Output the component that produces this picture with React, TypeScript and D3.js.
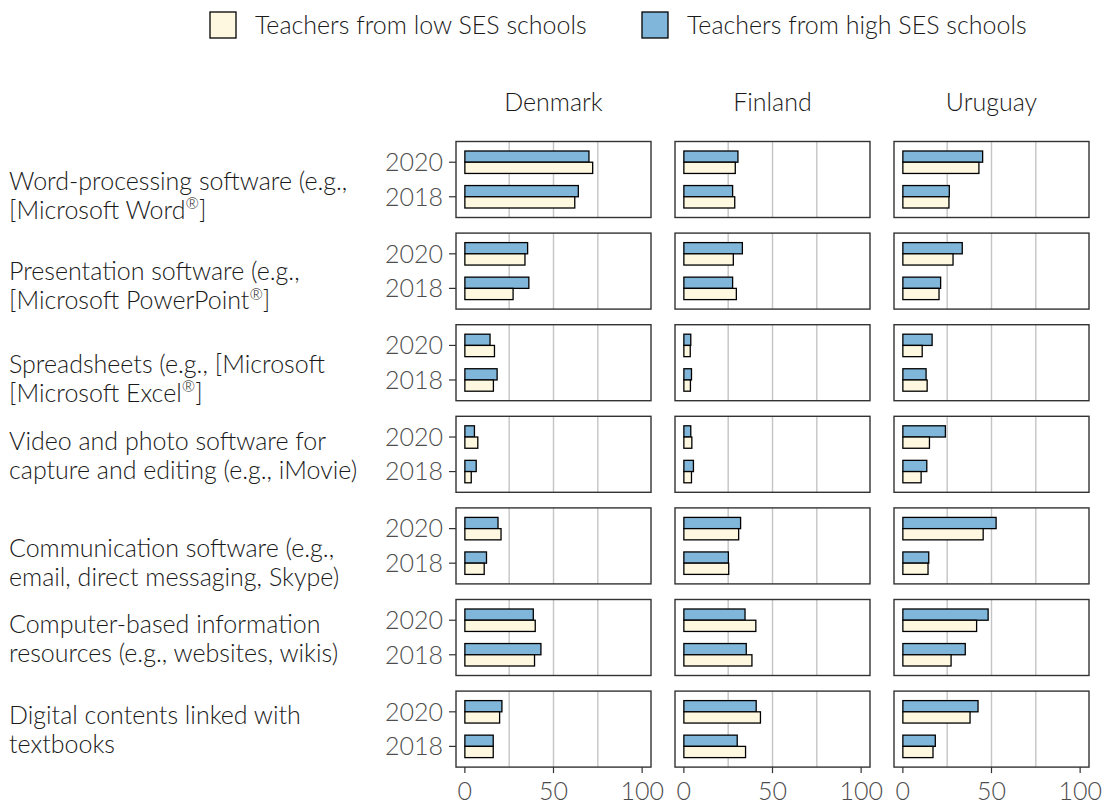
import * as d3 from "d3";

// --- data (percent of teachers) ---
const countries = ["Denmark", "Finland", "Uruguay"];
const years = ["2020", "2018"];
const groups = ["Teachers from low SES schools", "Teachers from high SES schools"];
const tools = [
  ["Word-processing software (e.g.,", "[Microsoft Word®]"],
  ["Presentation software (e.g.,", "[Microsoft PowerPoint®]"],
  ["Spreadsheets (e.g., [Microsoft", "[Microsoft Excel®]"],
  ["Video and photo software for", "capture and editing (e.g., iMovie)"],
  ["Communication software (e.g.,", "email, direct messaging, Skype)"],
  ["Computer-based information", "resources (e.g., websites, wikis)"],
  ["Digital contents linked with", "textbooks"],
];
const xTicks = [0, 50, 100];
const xGrid = [25, 50, 75];

// high SES values: [tool][country][year(2020,2018)]
const highSES = [
  [[70, 64], [30.5, 27.5], [45, 26.2]],
  [[35.4, 36.1], [33, 27.5], [33.5, 21.3]],
  [[14.2, 18.2], [3.9, 4.3], [16.5, 13.1]],
  [[5.4, 6.4], [3.9, 5.4], [24, 13.5]],
  [[18.7, 12.2], [32, 25.1], [52.6, 14.6]],
  [[38.6, 42.9], [34.5, 35.2], [48.1, 35.2]],
  [[20.9, 16], [40.8, 30.1], [42.4, 18.3]],
];
const lowSES = [
  [[72.1, 62], [29, 28.7], [42.9, 26]],
  [[33.9, 27.2], [27.9, 29.6], [28.3, 20.4]],
  [[16.7, 16.1], [3.6, 3.7], [10.9, 13.7]],
  [[7.3, 3.6], [4.5, 4.3], [15, 10.3]],
  [[20.4, 10.9], [30.9, 25.3], [45.3, 14.2]],
  [[39.7, 39.3], [40.6, 38.4], [41.6, 27.2]],
  [[19.6, 16], [43.2, 34.8], [37.9, 17]],
];

const W = 1107;
const H = 800;
const FONT = "Lato, 'Open Sans', sans-serif";
const LOW = "#FFF8E1";
const HIGH = "#80B6D9";
const colLeft = [456, 675, 894];
const panelW = 195;
const rowTop0 = 141.5;
const rowStep = 91.6;
const panelH = 76;
// labels that ggplot pushed down a bit
const labelShift = [16, 15, 16, 1, 17, 1, 1];

export default function App() {
  const xs = colLeft.map((l) => d3.scaleLinear().domain([-5, 105]).range([l, l + panelW]));

  return (
    <svg
      width={W}
      height={H}
      style={{ position: "absolute", left: 0, top: 0, fontFamily: FONT, fontWeight: 300 }}
    >
      <rect width={W} height={H} fill="#fff" />

      {/* legend */}
      {[{ x: 210, c: LOW, t: groups[0] }, { x: 642, c: HIGH, t: groups[1] }].map((g) => (
        <g key={g.t}>
          <rect x={g.x} y={12} width={26} height={26} fill={g.c} stroke="#000" strokeWidth={1.3} />
          <text x={g.x + 45} y={25} dy="0.35em" fontSize={25} fill="#1a1a1a">
            {g.t}
          </text>
        </g>
      ))}

      {/* facet titles */}
      {countries.map((c, ci) => (
        <text key={c} x={colLeft[ci] + panelW / 2} y={102} dy="0.35em" textAnchor="middle" fontSize={25} fill="#1a1a1a">
          {c}
        </text>
      ))}

      {tools.map((lines, ti) => {
        const top = rowTop0 + ti * rowStep;
        const y = d3.scalePoint().domain(years).range([top, top + panelH]).padding(0.6);
        const bw = y.step() * 0.325;
        const cy = top + panelH / 2 + labelShift[ti];
        return (
          <g key={ti}>
            {/* row label */}
            <text x={9} y={cy - 14.5} dy="0.35em" fontSize={25} fill="#1a1a1a">
              {lines[0]}
            </text>
            <text x={9} y={cy + 14.5} dy="0.35em" fontSize={25} fill="#1a1a1a">
              {lines[1].includes("®") ? (
                <>
                  {lines[1].split("®")[0]}
                  <tspan fontSize={16} dy="-0.6em">®</tspan>
                  <tspan dy="0.38em">{lines[1].split("®")[1]}</tspan>
                </>
              ) : (
                lines[1]
              )}
            </text>

            {/* year axis */}
            {years.map((yr) => (
              <g key={yr}>
                <line x1={449} x2={456} y1={y(yr)} y2={y(yr)} stroke="#333" strokeWidth={1.2} />
                <text x={443} y={y(yr)} dy="0.35em" textAnchor="end" fontSize={25} fill="#4d4d4d">
                  {yr}
                </text>
              </g>
            ))}

            {countries.map((c, ci) => {
              const x = xs[ci];
              return (
                <g key={c}>
                  {xGrid.map((g) => (
                    <line key={g} x1={x(g)} x2={x(g)} y1={top} y2={top + panelH} stroke="#c4c4c4" strokeWidth={1.4} />
                  ))}
                  {years.map((yr, yi) => {
                    const yc = y(yr) as number;
                    return (
                      <g key={yr}>
                        <rect
                          x={x(0)}
                          y={yc - bw}
                          width={x(highSES[ti][ci][yi]) - x(0)}
                          height={bw}
                          fill={HIGH}
                          stroke="#000"
                          strokeWidth={1.3}
                        />
                        <rect
                          x={x(0)}
                          y={yc}
                          width={x(lowSES[ti][ci][yi]) - x(0)}
                          height={bw}
                          fill={LOW}
                          stroke="#000"
                          strokeWidth={1.3}
                        />
                      </g>
                    );
                  })}
                  <rect x={x.range()[0]} y={top} width={panelW} height={panelH} fill="none" stroke="#333" strokeWidth={1.4} />
                </g>
              );
            })}
          </g>
        );
      })}

      {/* bottom axes */}
      {countries.map((c, ci) => {
        const x = xs[ci];
        const base = rowTop0 + 6 * rowStep + panelH;
        return (
          <g key={c}>
            {xTicks.map((t) => (
              <g key={t}>
                <line x1={x(t)} x2={x(t)} y1={base} y2={base + 6} stroke="#333" strokeWidth={1.2} />
                <text x={x(t)} y={base + 24} dy="0.35em" textAnchor="middle" fontSize={25} fill="#4d4d4d">
                  {t}
                </text>
              </g>
            ))}
          </g>
        );
      })}
    </svg>
  );
}
